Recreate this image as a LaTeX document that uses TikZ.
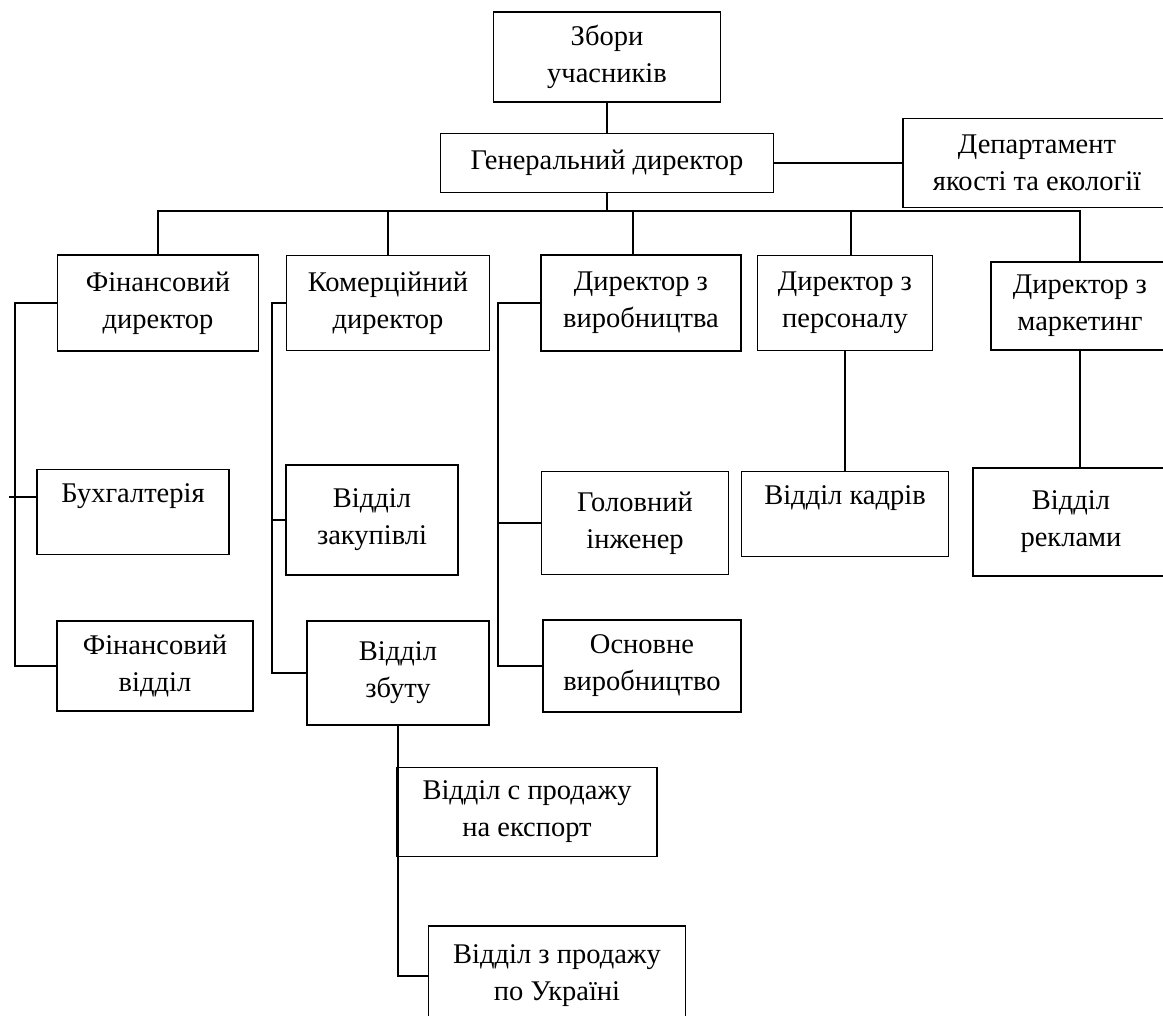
\documentclass[tikz,border=0pt]{standalone}
\usepackage{fontspec}
\setmainfont{Liberation Serif}

\tikzset{
	unit/.style 2 args = {draw, line width = 1.8pt, align = center, inner sep = 2pt,
		minimum width = #1 pt, minimum height = #2 pt, font = \fontsize{28.5}{37}\selectfont},
	link/.style = {line width = 1.8pt}
}

\begin{document}
\begin{tikzpicture}[x = 1pt, y = -1pt]

	\useasboundingbox (0, 0) rectangle (1163, 1016);
	\clip (0, 0) rectangle (1163, 1016);

	\node [unit = {227}{90}] (zbory) at (607, 57) {Збори\\учасників};
	\node [unit = {333}{59}] (gen) at (607, 163) {Генеральний директор};
	\node [unit = {268}{89}] (dep) at (1037, 163) {Департамент\\якості та екології};

	\node [unit = {201}{96}] (fin) at (158, 303) {Фінансовий\\директор};
	\node [unit = {203}{95}] (kom) at (388, 303) {Комерційний\\директор};
	\node [unit = {200}{96}] (vyr) at (641, 303) {Директор з\\виробництва};
	\node [unit = {175}{95}] (pers) at (845, 303) {Директор з\\персоналу};
	\node [unit = {178}{88}] (mark) at (1080, 306) {Директор з\\маркетинг};

	\node [unit = {192}{85}] (buh) at (133, 512) {Бухгалтерія\\~};
	\node [unit = {196}{90}] (finv) at (155, 666) {Фінансовий\\відділ};
	\node [unit = {172}{110}] (zak) at (372, 520) {Відділ\\закупівлі};
	\node [unit = {182}{104}] (zbut) at (398, 673) {Відділ\\збуту};
	\node [unit = {187}{103}] (gol) at (635, 523) {Головний\\інженер};
	\node [unit = {198}{92}] (osn) at (642, 666) {Основне\\виробництво};
	\node [unit = {207}{85}] (kadr) at (845, 514) {Відділ кадрів\\~};
	\node [unit = {196}{108}] (rekl) at (1071, 522) {Відділ\\реклами};

	\node [unit = {260}{89}] (exp) at (527, 812) {Відділ с продажу\\на експорт};
	\node [unit = {257}{100}] (ukr) at (557, 976) {Відділ з продажу\\по Україні};

	\coordinate (bus) at (607, 211);

	\begin{scope}[link]

		\draw (zbory) -- (gen);
		\draw (gen) -- (dep);
		\draw (gen.south) -- (bus);
		\draw (fin.north) |- (bus) -| (mark.north);
		\draw (kom.north) -- (kom.north |- bus);
		\draw ([xshift = -8pt] vyr.north) -- ([xshift = -8pt] vyr.north |- bus);
		\draw ([xshift = 6pt] pers.north) -- ([xshift = 6pt] pers.north |- bus);

		\draw (fin.west) -- ++(-42, 0) |- (finv.west);
		\draw ([yshift = 15pt] buh.west) -- ++(-27, 0);

		\draw (kom.west) -- ++(-14, 0) |- (zbut.west);
		\draw (zak.west) -- ++(-14, 0);

		\draw (vyr.west) -- ++(-42, 0) |- (osn.west);
		\draw (gol.west) -- ++(-42, 0);

		\draw (pers) -- (kadr);
		\draw (mark.south) -- (mark.south |- rekl.north);

		\draw (zbut.south) |- (ukr.west);

	\end{scope}

\end{tikzpicture}
\end{document}
